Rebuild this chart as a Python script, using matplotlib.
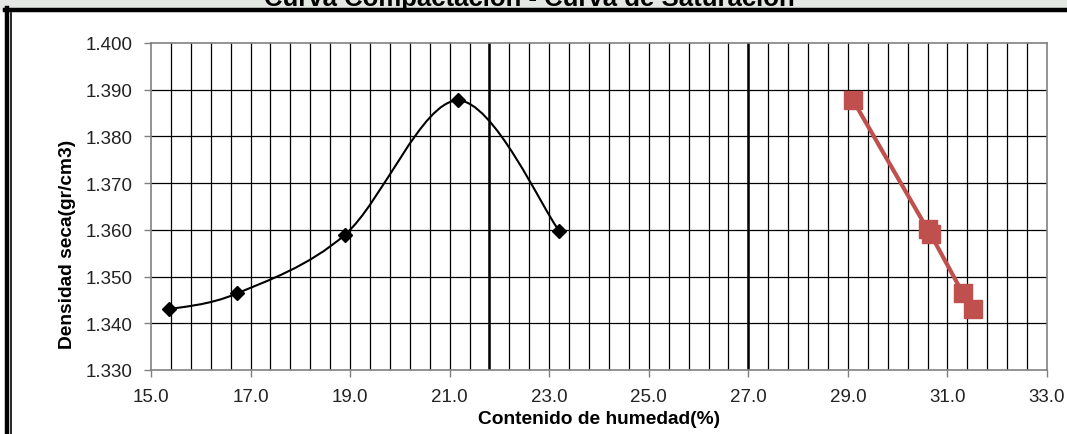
import numpy as np
import matplotlib
matplotlib.use("Agg")
import matplotlib.pyplot as plt
from matplotlib.path import Path
from matplotlib.patches import PathPatch, Rectangle
from matplotlib.lines import Line2D

plt.rcParams['font.family'] = ['Liberation Sans', 'DejaVu Sans']

# curva de compactacion (puntos del ensayo)
humedad = [15.37, 16.73, 18.90, 21.16, 23.20]
densidad = [1.3430, 1.3464, 1.3590, 1.3877, 1.3598]

# curva de saturacion
humedad_sat = [29.10, 30.60, 30.66, 31.31, 31.51]
densidad_sat = [1.3878, 1.3601, 1.3591, 1.3464, 1.3430]

# lineas de referencia
ref_lines = [21.8, 27.0]

x_ticks = [15.0, 17.0, 19.0, 21.0, 23.0, 25.0, 27.0, 29.0, 31.0, 33.0]
y_ticks = [1.330, 1.340, 1.350, 1.360, 1.370, 1.380, 1.390, 1.400]


def smooth_path(xs, ys):
    # curva suavizada tipo Excel (bezier con tension 1/6)
    pts = np.column_stack([xs, ys])
    n = len(pts)
    verts = [pts[0]]
    codes = [Path.MOVETO]
    for i in range(n - 1):
        p0 = pts[i - 1] if i > 0 else pts[i]
        p1 = pts[i]
        p2 = pts[i + 1]
        p3 = pts[i + 2] if i + 2 < n else pts[i + 1]
        c1 = p1 + (p2 - p0) / 6.0
        c2 = p2 - (p3 - p1) / 6.0
        verts += [c1, c2, p2]
        codes += [Path.CURVE4] * 3
    return Path(verts, codes)


W, H = 1067, 435
fig = plt.figure(figsize=(W / 100, H / 100), dpi=100)
ax = fig.add_axes([151 / W, 1 - 371 / H, (1047 - 151) / W, (371 - 44) / H])

# fondo de la franja superior (marca de agua)
fig.add_artist(Rectangle((0, 1 - 10 / H), 1, 10 / H, transform=fig.transFigure,
                         color='#e3e8e3', zorder=0))
fig.text(529 / W, 1 - 6 / H, 'Curva Compactación - Curva de Saturación',
         ha='center', va='baseline', fontsize=18.5, fontweight='bold', color='black')

# marco
fig.add_artist(Line2D([5 / W, 1], [1 - 11 / H] * 2, transform=fig.transFigure,
                      color='black', lw=3.2))
fig.add_artist(Line2D([7 / W] * 2, [0, 1 - 9 / H], transform=fig.transFigure,
                      color='black', lw=3.2))
fig.add_artist(Line2D([11 / W] * 2, [0, 1 - 14 / H], transform=fig.transFigure,
                      color='black', lw=1.2))

ax.set_xlim(15, 33)
ax.set_ylim(1.330, 1.400)

# cuadricula
for xv in np.arange(15.4, 33.0, 0.4):
    ax.axvline(xv, color='black', lw=0.9, zorder=1)
for yv in y_ticks[1:-1]:
    ax.axhline(yv, color='black', lw=0.9, zorder=1)
for xv in ref_lines:
    ax.axvline(xv, color='black', lw=1.8, zorder=1)

ax.add_patch(PathPatch(smooth_path(humedad, densidad), fill=False,
                       edgecolor='black', lw=1.5, zorder=3))
ax.plot(humedad, densidad, ls='none', marker='D', ms=7.5, color='black', zorder=4)

ax.plot(humedad_sat, densidad_sat, color='#c0504d', lw=3, marker='s', ms=12.5,
        zorder=4)

ax.set_xticks(x_ticks)
ax.set_xticklabels([f'{v:.1f}' for v in x_ticks])
ax.set_yticks(y_ticks)
ax.set_yticklabels([f'{v:.3f}' for v in y_ticks])
ax.tick_params(axis='both', direction='out', length=5, width=1, color='#808080',
               labelsize=13.5, labelcolor='#222222')
ax.tick_params(axis='y', pad=8)
ax.tick_params(axis='x', pad=8)
for s in ax.spines.values():
    s.set_color('#808080')
    s.set_linewidth(1.2)

fig.text(599 / W, 1 - 420 / H, 'Contenido de humedad(%)', ha='center', va='center',
         fontsize=13.8, fontweight='bold')
fig.text(67 / W, 1 - 244 / H, 'Densidad seca(gr/cm3)', ha='center', va='center',
         rotation=90, fontsize=13.8, fontweight='bold')

fig.savefig('out.png', dpi=100, facecolor='white')
